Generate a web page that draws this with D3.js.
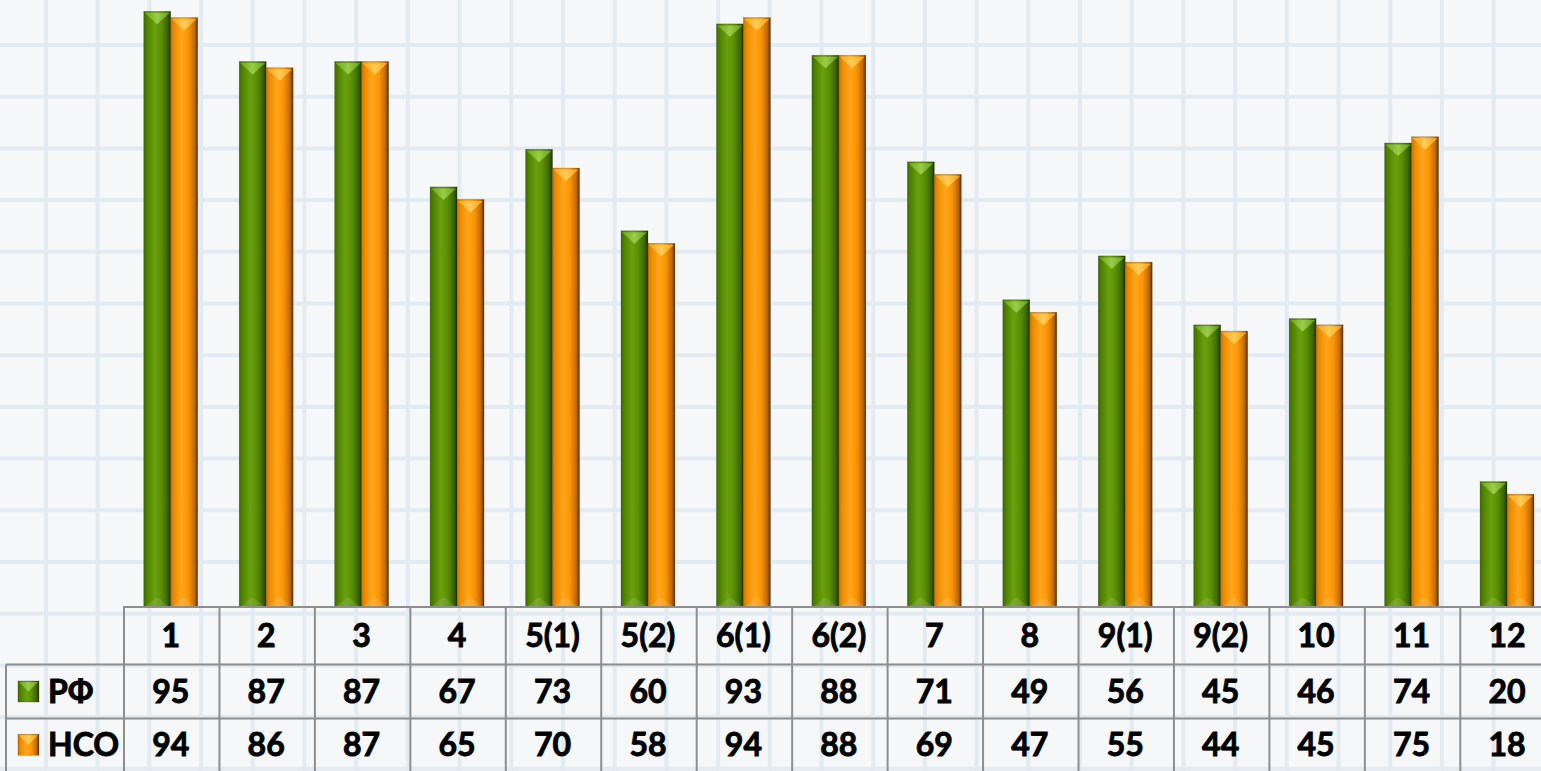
<!DOCTYPE html>
<html>
<head>
<meta charset="utf-8">
<script src="https://cdn.jsdelivr.net/npm/d3@7"></script>
<style>
  html, body { margin: 0; padding: 0; background: #f5f7f9; overflow: hidden; }
  svg { display: block; }
  text { font-family: Lato, "Open Sans", sans-serif; font-weight: bold; fill: #000; stroke: #000; stroke-width: 0.9px; }
</style>
</head>
<body>
<svg id="chart" width="1541" height="771"></svg>
<script>
// data
var categories = ["1", "2", "3", "4", "5(1)", "5(2)", "6(1)", "6(2)", "7", "8", "9(1)", "9(2)", "10", "11", "12"];
var rfValues  = [95, 87, 87, 67, 73, 60, 93, 88, 71, 49, 56, 45, 46, 74, 20];
var nsoValues = [94, 86, 87, 65, 70, 58, 94, 88, 69, 47, 55, 44, 45, 75, 18];
var seriesNames = ["РФ", "НСО"];

var width = 1541, height = 771;
var svg = d3.select("#chart");

var defs = svg.append("defs");

// horizontal gradients for the bevelled bars
function addGradient(id, stops) {
  var g = defs.append("linearGradient").attr("id", id)
    .attr("x1", "0%").attr("x2", "100%").attr("y1", "0%").attr("y2", "0%");
  stops.forEach(function (s) {
    g.append("stop").attr("offset", s[0]).attr("stop-color", s[1]);
  });
}
addGradient("g-rf", [["0%", "#3d6a00"], ["12%", "#4f8200"], ["40%", "#6aa00e"], ["65%", "#5b8f02"], ["88%", "#3b6400"], ["100%", "#1d3500"]]);
addGradient("g-nso", [["0%", "#d07000"], ["12%", "#ec8c00"], ["40%", "#ffa51c"], ["65%", "#fb9500"], ["88%", "#bf6a00"], ["100%", "#5a3000"]]);
addGradient("t-rf", [["0%", "#6fa51c"], ["50%", "#98cd48"], ["100%", "#6a9c18"]]);
addGradient("t-nso", [["0%", "#ffa820"], ["50%", "#ffcc55"], ["100%", "#f59a14"]]);

// background grid
var gridStep = 51.7;
var gridg = svg.append("g").attr("class", "grid");
d3.range(46, width, gridStep).forEach(function (x) {
  gridg.append("line").attr("x1", x).attr("x2", x).attr("y1", 0).attr("y2", height)
    .attr("stroke", "#e2ebf2").attr("stroke-width", 4);
});
d3.range(45, height, gridStep).forEach(function (y) {
  gridg.append("line").attr("x1", 0).attr("x2", width).attr("y1", y).attr("y2", y)
    .attr("stroke", "#e2ebf2").attr("stroke-width", 4);
});

// scales
var x = d3.scaleBand().domain(categories).range([123, 123 + 15 * 95.45]);
var xs = d3.scaleBand().domain(seriesNames).range([0, x.bandwidth()]).paddingOuter(0.77);
var y = d3.scaleLinear().domain([0, 100]).range([607, -20]);

var series = [
  { name: "РФ", key: "rf", values: rfValues },
  { name: "НСО", key: "nso", values: nsoValues }
];

var barg = svg.append("g");
series.forEach(function (s) {
  var g = barg.append("g");
  categories.forEach(function (c, i) {
    var v = s.values[i];
    var x0 = x(c) + xs(s.name), w = xs.bandwidth();
    var top = y(v), bot = y(0);
    g.append("rect").attr("x", x0).attr("y", top).attr("width", w).attr("height", bot - top)
      .attr("fill", "url(#g-" + s.key + ")")
      .attr("stroke", "rgba(40,30,0,0.35)").attr("stroke-width", 0.6);
    // top bevel
    g.append("polygon")
      .attr("points", [[x0 + 1, top + 1.5], [x0 + w - 1, top + 1.5], [x0 + w / 2, top + 13]].join(" "))
      .attr("fill", "url(#t-" + s.key + ")");
    // bottom bevel
    g.append("polygon")
      .attr("points", [[x0 + 2, bot - 1], [x0 + w - 2, bot - 1], [x0 + w / 2, bot - 10]].join(" "))
      .attr("fill", "rgba(255,255,255,0.12)");
  });
});

// data table
var tbl = svg.append("g");
var rowY = [607, 664.5, 718.5, 771];
var lineColor = "#8e8e8e";
tbl.append("line").attr("x1", x.range()[0]).attr("x2", width).attr("y1", rowY[0]).attr("y2", rowY[0])
  .attr("stroke", lineColor).attr("stroke-width", 2);
tbl.append("line").attr("x1", 6).attr("x2", width).attr("y1", rowY[1]).attr("y2", rowY[1])
  .attr("stroke", lineColor).attr("stroke-width", 2);
tbl.append("line").attr("x1", 6).attr("x2", width).attr("y1", rowY[2]).attr("y2", rowY[2])
  .attr("stroke", lineColor).attr("stroke-width", 2);
tbl.append("line").attr("x1", 6).attr("x2", 6).attr("y1", rowY[1]).attr("y2", height)
  .attr("stroke", lineColor).attr("stroke-width", 2);
categories.forEach(function (c) {
  tbl.append("line").attr("x1", x(c) + 1).attr("x2", x(c) + 1).attr("y1", rowY[0]).attr("y2", height)
    .attr("stroke", lineColor).attr("stroke-width", 2);
});

var fontSize = 32;
categories.forEach(function (c, i) {
  var cx = x(c) + x.bandwidth() / 2;
  tbl.append("text").attr("x", cx).attr("y", (rowY[0] + rowY[1]) / 2).attr("dy", "0.36em")
    .attr("text-anchor", "middle").attr("font-size", fontSize).text(c);
  series.forEach(function (s, j) {
    tbl.append("text").attr("x", cx).attr("y", (rowY[j + 1] + rowY[j + 2]) / 2).attr("dy", "0.36em")
      .attr("text-anchor", "middle").attr("font-size", fontSize).text(s.values[i]);
  });
});

// legend keys in the table
series.forEach(function (s, j) {
  var cy = (rowY[j + 1] + rowY[j + 2]) / 2;
  var kx = 18, ks = 21, ky = cy - ks / 2;
  tbl.append("rect").attr("x", kx).attr("y", ky).attr("width", ks).attr("height", ks)
    .attr("fill", "url(#g-" + s.key + ")").attr("stroke", "rgba(40,30,0,0.4)").attr("stroke-width", 0.6);
  tbl.append("polygon")
    .attr("points", [[kx + 1, ky + 1], [kx + ks - 1, ky + 1], [kx + ks / 2, ky + ks / 2]].join(" "))
    .attr("fill", "url(#t-" + s.key + ")");
  tbl.append("text").attr("x", 48).attr("y", cy).attr("dy", "0.36em")
    .attr("font-size", fontSize).text(s.name);
});
</script>
</body>
</html>
